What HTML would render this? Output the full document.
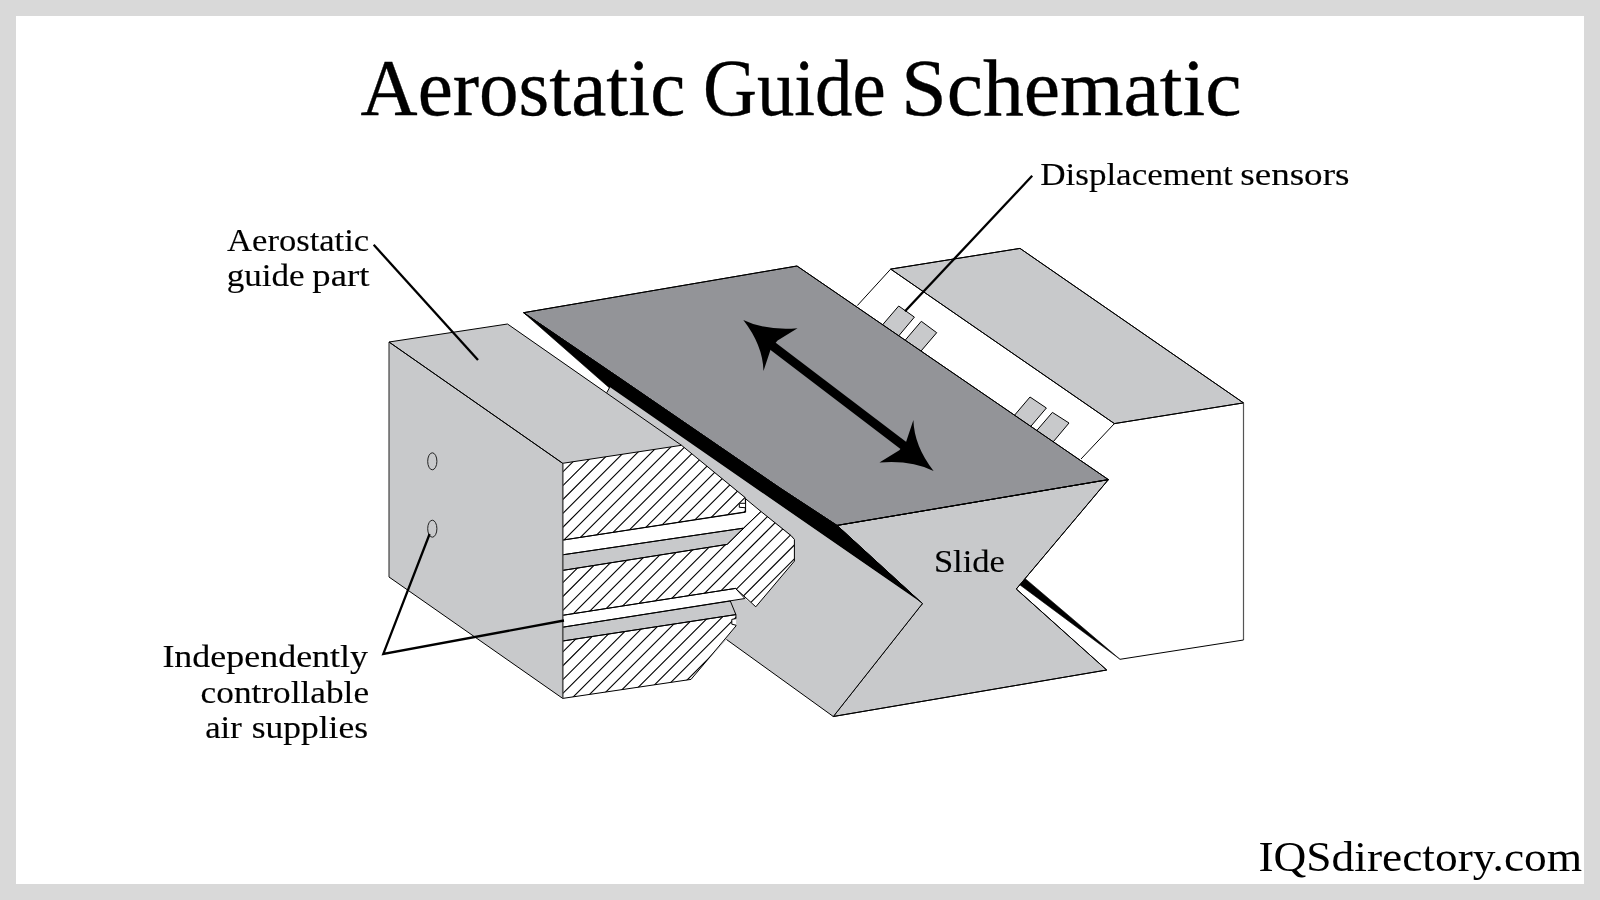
<!DOCTYPE html>
<html><head><meta charset="utf-8"><style>
html,body{margin:0;padding:0;background:#d9d9d9;}
svg{display:block}
text{font-family:"Liberation Serif",serif;fill:#000}
.tx{filter:grayscale(1)}
</style></head><body>
<svg width="1600" height="900" viewBox="0 0 1600 900">
<defs><clipPath id="hc0"><polygon points="562.7,463.3 681.5,445.3 745.2,497.6 745.5,503.3 739.3,503.3 739.3,507.3 745.3,507.7 745.3,511.9 562.7,540.1"/></clipPath><clipPath id="hc1"><polygon points="562.7,570.4 727.2,544.4 761.0,511.5 791.1,535.6 794.4,539.4 794.4,561.1 755.8,606.8 735.5,588.4 562.7,615.3"/></clipPath><clipPath id="hc2"><polygon points="562.7,641.0 735.9,614.6 736.0,618.6 731.8,619.4 731.8,624.2 736.0,625.2 736.0,625.9 691.0,679.4 562.7,698.4"/></clipPath></defs>
<rect x="0" y="0" width="1600" height="900" fill="#d9d9d9"/>
<rect x="16" y="16" width="1568" height="868" fill="#fff"/>
<polygon points="890.7,269.1 1114.4,423.6 1081.0,459.0 857.3,305.6" fill="#fff" stroke="none" stroke-linejoin="miter" />
<polygon points="1114.4,423.6 1243.0,402.4 1243.6,640.0 1120.0,659.3 1025.3,578.7 1081.0,459.0" fill="#fff" stroke="none" stroke-linejoin="miter" />
<polygon points="890.7,269.1 1020.0,248.4 1243.5,402.9 1114.4,423.6" fill="#c8c9cb" stroke="#000" stroke-width="1.0" stroke-linejoin="miter" />
<polygon points="898.7,306.0 914.4,317.1 896.7,338.3 880.7,327.0" fill="#c8c9cb" stroke="#000" stroke-width="1.0" stroke-linejoin="miter" />
<polygon points="921.3,321.3 936.7,332.7 919.0,353.4 903.4,342.3" fill="#c8c9cb" stroke="#000" stroke-width="1.0" stroke-linejoin="miter" />
<polygon points="1030.0,397.0 1046.4,408.0 1029.4,428.0 1013.0,417.0" fill="#c8c9cb" stroke="#000" stroke-width="1.0" stroke-linejoin="miter" />
<polygon points="1052.4,412.4 1069.0,423.0 1051.4,444.0 1035.0,432.6" fill="#c8c9cb" stroke="#000" stroke-width="1.0" stroke-linejoin="miter" />
<polygon points="1025.3,578.7 1120.0,659.3 1019.7,584.7" fill="#000" stroke="#000" stroke-width="0.6" stroke-linejoin="miter" />
<polygon points="837.0,525.4 1108.4,479.6 1016.3,589.0 1106.7,670.0 833.3,716.5 922.4,603.6" fill="#c8c9cb" stroke="#000" stroke-width="1.0" stroke-linejoin="miter" />
<polygon points="523.6,312.7 797.0,266.0 1108.4,479.6 837.0,525.4 780.0,488.0 622.5,380.0" fill="#939498" stroke="#000" stroke-width="1.0" stroke-linejoin="miter" />
<polygon points="523.6,312.7 622.5,380.0 780.0,488.0 837.0,525.4 922.4,603.6 609.5,388.0" fill="#000" stroke="#000" stroke-width="0.6" stroke-linejoin="miter" />
<polygon points="389.0,342.0 507.5,324.0 606.7,392.8 609.8,387.1 922.4,603.6 833.3,716.5 726.5,639.5 691.0,679.4 562.7,698.4 389.0,577.0" fill="#c8c9cb" stroke="none" stroke-linejoin="miter" />
<polygon points="562.7,463.3 681.5,445.3 794.4,539.4 794.4,561.1 755.8,606.8 744.9,598.5 730.3,601.0 735.9,614.6 736.0,625.9 691.0,679.4 562.7,698.4" fill="#fff" stroke="none" stroke-linejoin="miter" />
<polygon points="562.7,540.1 745.6,512.2 745.6,498.8 761.0,511.5 743.3,528.2 562.7,554.8" fill="#fff" stroke="none" stroke-linejoin="miter" />
<polygon points="562.7,615.3 735.5,588.4 744.9,598.5 562.7,627.2" fill="#fff" stroke="none" stroke-linejoin="miter" />
<polygon points="562.7,554.8 743.3,528.2 727.2,544.4 562.7,570.4" fill="#c8c9cb" stroke="none" stroke-linejoin="miter" />
<polygon points="562.7,627.2 730.3,601.0 735.9,614.6 562.7,641.0" fill="#c8c9cb" stroke="none" stroke-linejoin="miter" />
<path d="M550,443.15L810,183.15 M550,457.00L810,197.00 M550,470.85L810,210.85 M550,484.70L810,224.70 M550,498.55L810,238.55 M550,512.40L810,252.40 M550,526.25L810,266.25 M550,540.10L810,280.10 M550,553.95L810,293.95 M550,567.80L810,307.80 M550,581.65L810,321.65 M550,595.50L810,335.50 M550,609.35L810,349.35 M550,623.20L810,363.20 M550,637.05L810,377.05 M550,650.90L810,390.90 M550,664.75L810,404.75 M550,678.60L810,418.60 M550,692.45L810,432.45 M550,706.30L810,446.30 M550,720.15L810,460.15 M550,734.00L810,474.00 M550,747.85L810,487.85 M550,761.70L810,501.70" stroke="#000" stroke-width="1.1" clip-path="url(#hc0)" fill="none"/>
<path d="M550,498.55L810,238.55 M550,512.40L810,252.40 M550,526.25L810,266.25 M550,540.10L810,280.10 M550,553.95L810,293.95 M550,567.80L810,307.80 M550,581.65L810,321.65 M550,595.50L810,335.50 M550,609.35L810,349.35 M550,623.20L810,363.20 M550,637.05L810,377.05 M550,650.90L810,390.90 M550,664.75L810,404.75 M550,678.60L810,418.60 M550,692.45L810,432.45 M550,706.30L810,446.30 M550,720.15L810,460.15 M550,734.00L810,474.00 M550,747.85L810,487.85 M550,761.70L810,501.70 M550,775.55L810,515.55 M550,789.40L810,529.40 M550,803.25L810,543.25 M550,817.10L810,557.10 M550,830.95L810,570.95 M550,844.80L810,584.80 M550,858.65L810,598.65 M550,872.50L810,612.50 M550,886.35L810,626.35" stroke="#000" stroke-width="1.1" clip-path="url(#hc1)" fill="none"/>
<path d="M550,609.35L810,349.35 M550,623.20L810,363.20 M550,637.05L810,377.05 M550,650.90L810,390.90 M550,664.75L810,404.75 M550,678.60L810,418.60 M550,692.45L810,432.45 M550,706.30L810,446.30 M550,720.15L810,460.15 M550,734.00L810,474.00 M550,747.85L810,487.85 M550,761.70L810,501.70 M550,775.55L810,515.55 M550,789.40L810,529.40 M550,803.25L810,543.25 M550,817.10L810,557.10 M550,830.95L810,570.95 M550,844.80L810,584.80 M550,858.65L810,598.65 M550,872.50L810,612.50 M550,886.35L810,626.35 M550,900.20L810,640.20" stroke="#000" stroke-width="1.1" clip-path="url(#hc2)" fill="none"/>
<polygon points="562.7,463.3 681.5,445.3 745.2,497.6 745.5,503.3 739.3,503.3 739.3,507.3 745.3,507.7 745.3,511.9 562.7,540.1" fill="none" stroke="#000" stroke-width="1.0" stroke-linejoin="miter" />
<polygon points="562.7,570.4 727.2,544.4 761.0,511.5 791.1,535.6 794.4,539.4 794.4,561.1 755.8,606.8 735.5,588.4 562.7,615.3" fill="none" stroke="#000" stroke-width="1.0" stroke-linejoin="miter" />
<polygon points="562.7,641.0 735.9,614.6 736.0,618.6 731.8,619.4 731.8,624.2 736.0,625.2 736.0,625.9 691.0,679.4 562.7,698.4" fill="none" stroke="#000" stroke-width="1.0" stroke-linejoin="miter" />
<polygon points="562.7,554.8 743.3,528.2 727.2,544.4 562.7,570.4" fill="none" stroke="#000" stroke-width="1.0" stroke-linejoin="miter" />
<polygon points="562.7,627.2 730.3,601.0 735.9,614.6 562.7,641.0" fill="none" stroke="#000" stroke-width="1.0" stroke-linejoin="miter" />
<polygon points="562.7,540.1 745.6,512.2 745.6,498.8 761.0,511.5 743.3,528.2 562.7,554.8" fill="none" stroke="#000" stroke-width="1.0" stroke-linejoin="miter" />
<polygon points="562.7,615.3 735.5,588.4 744.9,598.5 562.7,627.2" fill="none" stroke="#000" stroke-width="1.0" stroke-linejoin="miter" />
<line x1="389.0" y1="342.0" x2="562.7" y2="463.3" stroke="#000" stroke-width="1.0" />
<line x1="389.0" y1="577.0" x2="562.7" y2="698.4" stroke="#000" stroke-width="1.0" />
<line x1="389.0" y1="342.0" x2="389.0" y2="577.0" stroke="#333" stroke-width="1.1" />
<line x1="562.7" y1="463.3" x2="562.7" y2="698.4" stroke="#555" stroke-width="1.5" />
<polyline points="562.7,463.3 389.0,342.0 507.5,324.0 681.5,445.3" fill="none" stroke="#000" stroke-width="1.0" stroke-linejoin="miter"/>
<line x1="606.7" y1="392.8" x2="609.8" y2="387.1" stroke="#000" stroke-width="1.0" />
<line x1="726.5" y1="639.5" x2="833.3" y2="716.5" stroke="#000" stroke-width="1.0" />
<ellipse cx="432.3" cy="461.3" rx="4.6" ry="8.5" fill="none" stroke="#222" stroke-width="1"/>
<ellipse cx="432.3" cy="528.7" rx="4.6" ry="8.5" fill="none" stroke="#222" stroke-width="1"/>
<polyline points="837.0,525.4 922.4,603.6 833.3,716.5 1106.7,670.0 1016.3,589.0 1108.4,479.6 837.0,525.4" fill="none" stroke="#000" stroke-width="1.0" stroke-linejoin="miter"/>
<polygon points="523.6,312.7 797.0,266.0 1108.4,479.6 837.0,525.4 780.0,488.0 622.5,380.0" fill="none" stroke="#000" stroke-width="1.0" stroke-linejoin="miter" />
<polyline points="857.3,305.6 890.7,269.1 1020.0,248.4 1243.5,402.9" fill="none" stroke="#000" stroke-width="1.0" stroke-linejoin="miter"/>
<line x1="1243.5" y1="402.9" x2="1243.5" y2="640.0" stroke="#555" stroke-width="1.2" />
<line x1="1243.5" y1="640.0" x2="1120.0" y2="659.3" stroke="#000" stroke-width="1.0" />
<polyline points="890.7,269.1 1114.4,423.6 1243.5,402.9" fill="none" stroke="#000" stroke-width="1.0" stroke-linejoin="miter"/>
<line x1="1114.4" y1="423.6" x2="1081.0" y2="459.0" stroke="#000" stroke-width="1.0" />
<path d="M743.3,319.9 Q766.1,331 797.5,328.3 L777.6,340.5 L771.1,348.1 L763.5,370.9 Q762.8,345 743.3,319.9 Z" fill="#000"/>
<path d="M743.3,319.9 Q766.1,331 797.5,328.3 L777.6,340.5 L771.1,348.1 L763.5,370.9 Q762.8,345 743.3,319.9 Z" fill="#000" transform="rotate(180 838.45 395.4)"/>
<line x1="772" y1="345.5" x2="904.9" y2="446.6" stroke="#000" stroke-width="9"/>
<line x1="373.7" y1="244.8" x2="478.0" y2="360.0" stroke="#000" stroke-width="2.3" />
<line x1="1032.2" y1="175.8" x2="905.0" y2="311.3" stroke="#000" stroke-width="2.3" />
<polyline points="429.6,534.0 383.3,653.9 564.0,620.5" fill="none" stroke="#000" stroke-width="2.3" stroke-linejoin="miter"/>
<g class="tx"><text transform="translate(360.61,115.30) scale(0.9877,1)" font-size="80" stroke="#000" stroke-width="0.35">Aerostatic</text>
<text transform="translate(702.89,115.30) scale(0.9353,1)" font-size="80" stroke="#000" stroke-width="0.35">Guide</text>
<text transform="translate(901.29,115.30) scale(1.0212,1)" font-size="80" stroke="#000" stroke-width="0.35">Schematic</text>
<text transform="translate(1040.22,184.70) scale(1.0781,1)" font-size="32.5" stroke="#000" stroke-width="0.15">Displacement</text>
<text transform="translate(1240.26,184.70) scale(1.1415,1)" font-size="32.5" stroke="#000" stroke-width="0.15">sensors</text>
<text transform="translate(227.10,250.80) scale(1.0639,1)" font-size="32.5" stroke="#000" stroke-width="0.15">Aerostatic</text>
<text transform="translate(226.72,285.90) scale(1.0800,1)" font-size="32.5" stroke="#000" stroke-width="0.15">guide</text>
<text transform="translate(312.37,285.90) scale(1.1286,1)" font-size="32.5" stroke="#000" stroke-width="0.15">part</text>
<text transform="translate(162.39,666.75) scale(1.1065,1)" font-size="32.5" stroke="#000" stroke-width="0.15">Independently</text>
<text transform="translate(200.61,702.75) scale(1.0856,1)" font-size="32.5" stroke="#000" stroke-width="0.15">controllable</text>
<text transform="translate(205.18,738.30) scale(1.0682,1)" font-size="32.5" stroke="#000" stroke-width="0.15">air</text>
<text transform="translate(251.66,738.30) scale(1.0929,1)" font-size="32.5" stroke="#000" stroke-width="0.15">supplies</text>
<text transform="translate(933.88,572.00) scale(1.0625,1)" font-size="32.5" stroke="#000" stroke-width="0.15">Slide</text>
<text transform="translate(1258.39,871.25) scale(1.0567,1)" font-size="43" >IQSdirectory.com</text></g>
</svg>
</body></html>
